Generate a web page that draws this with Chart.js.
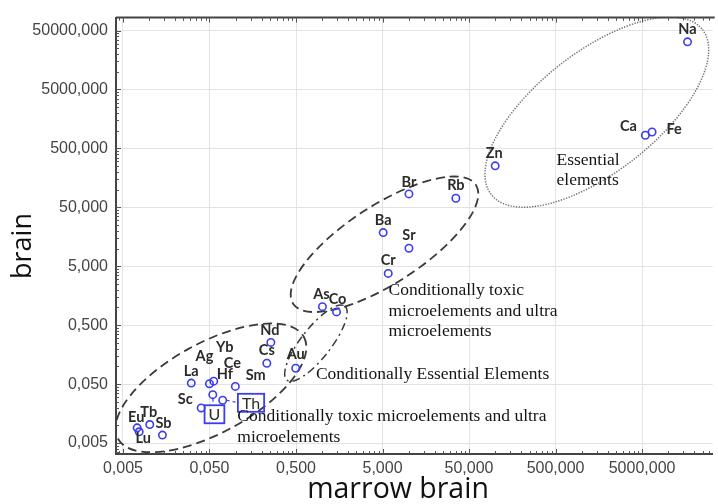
<!DOCTYPE html>
<html><head><meta charset="utf-8">
<script src="https://cdn.jsdelivr.net/npm/chart.js@4.4.1/dist/chart.umd.min.js"></script>
<style>html,body{margin:0;padding:0;background:#fff;}canvas{display:block;}</style>
</head><body>
<canvas id="c" width="718" height="504"></canvas>
<script>
// ---- data ----
const elements    = ['Na','Ca','Fe','Zn','Br','Rb','Ba','Sr','Cr','As','Co','Nd','Cs','Au','La','Ag','Yb','Ce','Hf','Sm','Sc','Eu','Lu','Tb','Sb'];
const marrowBrain = [16760,5455,6517,100.3,10.1,35.2,5.09,10.1,5.82,1.01,1.47,0.256,0.230,0.496,0.0308,0.050,0.056,0.0995,0.0546,0.0711,0.0401,0.0073,0.0077,0.0102,0.0143];
const brain       = [32130,835,949,253,84.5,71.2,18.6,10.1,3.78,1.03,0.84,0.255,0.113,0.093,0.052,0.0508,0.0562,0.0457,0.0331,0.0266,0.0197,0.00906,0.00776,0.0103,0.00682];
const boxedElements    = ['U','Th'];
const boxedMarrowBrain = [0.0571,0.151];
const boxedBrain       = [0.0154,0.0241];
const xTickValues = [0.005,0.05,0.5,5,50,500,5000];
const yTickValues = [0.005,0.05,0.5,5,50,500,5000,50000];
const xTitle = 'marrow brain';
const yTitle = 'brain';
// element groups (ellipse centres in data units)
const groupTexts   = [['Essential','elements'],['Conditionally toxic','microelements and ultra','microelements'],['Conditionally Essential Elements'],['Conditionally toxic microelements and ultra','microelements']];
const groupCentreX = [1500, 5.27, 0.849, 0.052];
const groupCentreY = [2063, 11.8, 0.2477, 0.0432];
const groupTextX   = [513, 5.86, 0.849, 0.105];
const groupTextY   = [316, 1.954, 0.0729, 0.014];

// ---- styles ----
const ellipseStyle = [
  {a:134,b:60,rot:38,dash:[1.3,1.4],color:'#707070',width:1.5},
  {a:109,b:39,rot:33,dash:[9,5],color:'#3a3a3a',width:1.8},
  {a:47,b:15,rot:52,dash:[8,4,2,4],color:'#3a3a3a',width:1.5},
  {a:106,b:45,rot:28.7,dash:[9,5],color:'#3a3a3a',width:1.8}
];
const labelOffset = {Na:[0,-13],Ca:[-17,-9],Fe:[22,-3],Zn:[-1,-12],Br:[0,-12],Rb:[0,-13],Ba:[0,-12],Sr:[0,-13],Cr:[0,-13],
  As:[-1,-12],Co:[1,-13],Nd:[-1,-12],Cs:[0,-13],Au:[0,-14],La:[0,-12],Ag:[-5,-27],Yb:[11,-34],Ce:[-3,-23],Hf:[12,-20],
  Sm:[33,-25],Sc:[-16,-9],Eu:[-1,-11],Lu:[4,7],Tb:[-1,-12],Sb:[1,-12]};
const blue = '#3c3cf0';
const fmt = v => Number(v).toFixed(3).replace('.', ',');

const annot = {
  id:'annot',
  beforeDatasetsDraw(chart){
    const {ctx, chartArea:ca, scales:{x,y}} = chart;
    ctx.save();
    ctx.beginPath(); ctx.rect(ca.left, ca.top, ca.right-ca.left, ca.bottom-ca.top); ctx.clip();
    groupCentreX.forEach((gx,i)=>{
      const s = ellipseStyle[i];
      const cx = x.getPixelForValue(gx), cy = y.getPixelForValue(groupCentreY[i]);
      ctx.save();
      ctx.translate(cx,cy); ctx.rotate(-s.rot*Math.PI/180);
      ctx.beginPath(); ctx.ellipse(0,0,s.a,s.b,0,0,Math.PI*2);
      ctx.setLineDash(s.dash); ctx.strokeStyle=s.color; ctx.lineWidth=s.width; ctx.stroke();
      ctx.restore();
    });
    ctx.restore();
  },
  afterDatasetsDraw(chart){
    const {ctx, chartArea:ca, scales:{x,y}} = chart;
    ctx.save();
    // frame top line
    ctx.strokeStyle='#444'; ctx.lineWidth=2;
    ctx.beginPath(); ctx.moveTo(ca.left, ca.top); ctx.lineTo(ca.right+2, ca.top); ctx.stroke();
    // inward ticks (major + minor)
    ctx.lineWidth=1; ctx.strokeStyle='#555';
    const tickSet = (vals, min, max) => { const out=[]; vals.forEach(v=>{ for(let m=1;m<=9;m++){ for (const f of [0.1,1]) { const t=v*m*f; if(t>=min&&t<=max) out.push([t,m===1&&f===1]); } } }); return out; };
    tickSet(xTickValues, x.min, x.max).forEach(([t,maj])=>{
      const px=Math.round(x.getPixelForValue(t))+0.5, L=maj?5:3;
      ctx.beginPath(); ctx.moveTo(px, ca.bottom); ctx.lineTo(px, ca.bottom-L); ctx.moveTo(px, ca.top); ctx.lineTo(px, ca.top+L); ctx.stroke();
    });
    tickSet(yTickValues, y.min, y.max).forEach(([t,maj])=>{
      const py=Math.round(y.getPixelForValue(t))+0.5, L=maj?5:3;
      ctx.beginPath(); ctx.moveTo(ca.left, py); ctx.lineTo(ca.left+L, py); ctx.stroke();
    });
    // leaders to boxed labels
    ctx.setLineDash([3,3]); ctx.strokeStyle=blue; ctx.lineWidth=1.2;
    const iHf = elements.indexOf('Hf'), iSm = elements.indexOf('Sm');
    const hx=x.getPixelForValue(marrowBrain[iHf]), hy=y.getPixelForValue(brain[iHf]);
    const ux=x.getPixelForValue(boxedMarrowBrain[0]), uy=y.getPixelForValue(boxedBrain[0]);
    ctx.beginPath(); ctx.moveTo(hx, hy+4); ctx.lineTo(ux-1, uy-10); ctx.stroke();
    const sx=x.getPixelForValue(marrowBrain[iSm]), sy=y.getPixelForValue(brain[iSm]);
    const tx=x.getPixelForValue(boxedMarrowBrain[1]), ty=y.getPixelForValue(boxedBrain[1]);
    ctx.beginPath(); ctx.moveTo(sx+4, sy); ctx.lineTo(tx-12, ty); ctx.stroke();
    ctx.setLineDash([]);
    // point labels
    ctx.font='bold 14.5px Lato'; ctx.fillStyle='#2b2b2b'; ctx.textAlign='center'; ctx.textBaseline='middle';
    elements.forEach((e,i)=>{
      const o=labelOffset[e]||[0,-12];
      ctx.fillText(e, x.getPixelForValue(marrowBrain[i])+o[0], y.getPixelForValue(brain[i])+o[1]);
    });
    // boxed labels
    ctx.font='16px Lato';
    boxedElements.forEach((e,i)=>{
      const px=x.getPixelForValue(boxedMarrowBrain[i]), py=y.getPixelForValue(boxedBrain[i]);
      const w=Math.max(17, ctx.measureText(e).width+8), h=18;
      ctx.strokeStyle=blue; ctx.lineWidth=1.8; ctx.strokeRect(px-w/2, py-h/2, w, h);
      ctx.fillStyle='#2b2b2b'; ctx.fillText(e, px, py+1);
    });
    // group texts
    ctx.font='17.5px "Liberation Serif"'; ctx.fillStyle='#151515'; ctx.textAlign='left';
    groupTexts.forEach((lines,i)=>{
      const px=x.getPixelForValue(groupTextX[i]), py=y.getPixelForValue(groupTextY[i]);
      lines.forEach((l,k)=>ctx.fillText(l, px, py+k*20.7));
    });
    // axis titles
    ctx.font='28.5px "Open Sans"'; ctx.fillStyle='#111'; ctx.textAlign='center'; ctx.textBaseline='alphabetic';
    ctx.fillText(xTitle, 398, 498);
    ctx.save(); ctx.translate(31, 246); ctx.rotate(-Math.PI/2); ctx.font='27px "Open Sans"'; ctx.fillText(yTitle, 0, 0); ctx.restore();
    ctx.restore();
  }
};

new Chart(document.getElementById('c'), {
  type:'scatter',
  data:{datasets:[
    {label:'elements', data: elements.map((e,i)=>({x:marrowBrain[i], y:brain[i]})),
     pointRadius:3.7, pointHoverRadius:3.7, pointBorderWidth:1.6, borderColor:blue, backgroundColor:'rgba(0,0,0,0)', pointStyle:'circle'},
    {label:'boxed', data: boxedElements.map((e,i)=>({x:boxedMarrowBrain[i], y:boxedBrain[i]})), pointRadius:0, pointHoverRadius:0}
  ]},
  options:{
    responsive:false, animation:false, devicePixelRatio:1,
    layout:{padding:{left:0, top:15, right:1, bottom:0}},
    plugins:{legend:{display:false}, tooltip:{enabled:false}},
    scales:{
      x:{type:'logarithmic', position:'bottom', min:0.004155, max:32740,
         afterBuildTicks: s => { s.ticks = xTickValues.map(v=>({value:v})); },
         afterFit: s => { s.height = 50; },
         ticks:{callback:v=>fmt(v), autoSkip:false, maxRotation:0, padding:5, font:{family:'"Liberation Sans"', size:16}, color:'#444'},
         grid:{color:'#e3e3e3', lineWidth:1, drawTicks:false},
         border:{display:true, color:'#444', width:2}},
      y:{type:'logarithmic', position:'left', min:0.00326, max:82800,
         afterBuildTicks: s => { s.ticks = yTickValues.map(v=>({value:v})); },
         afterFit: s => { s.width = 116; },
         ticks:{callback:v=>fmt(v), autoSkip:false, padding:8, font:{family:'"Liberation Sans"', size:16}, color:'#444'},
         grid:{color:'#e3e3e3', lineWidth:1, drawTicks:false},
         border:{display:true, color:'#444', width:2}}
    }
  },
  plugins:[annot]
});
</script>
</body></html>
